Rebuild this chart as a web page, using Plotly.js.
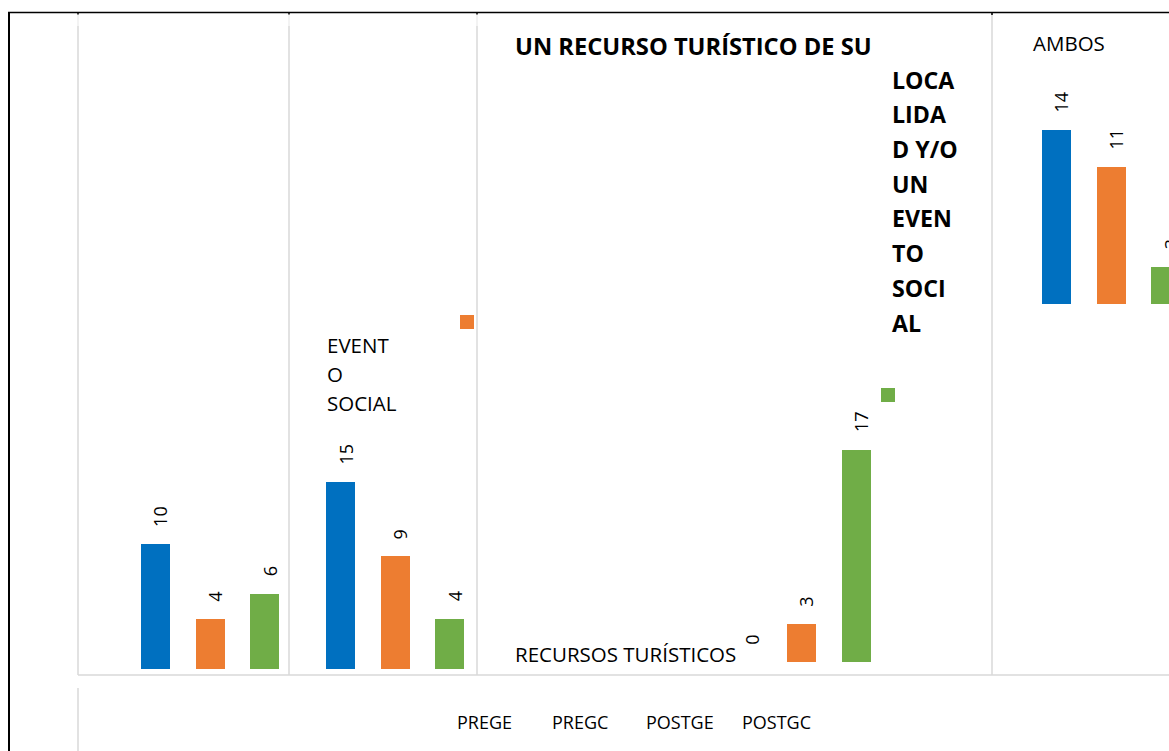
<!DOCTYPE html>
<html>
<head>
<meta charset="utf-8">
<script src="https://cdn.plot.ly/plotly-3.0.1.min.js"></script>
<style>html,body{margin:0;padding:0;background:#fff;}#chart{width:1169px;height:751px;}</style>
</head>
<body>
<div id="chart"></div>
<script>
// ---- data ----
const categories = ['', 'EVENTO SOCIAL', 'RECURSOS TURÍSTICOS', 'AMBOS'];
const blueValues = [10, 15, 0, 14];
const orangeValues = [4, 9, 3, 11];
const greenValues = [6, 4, 17, 3];
const legendLabels = ['PREGE', 'PREGC', 'POSTGE', 'POSTGC'];
const titleFirstLine = 'UN RECURSO TURÍSTICO DE SU';
const titleWrapped = ['LOCA', 'LIDA', 'D Y/O', 'UN', 'EVEN', 'TO', 'SOCI', 'AL'];
const eventoWrapped = ['EVENT', 'O', 'SOCIAL'];

// ---- layout geometry (pixels) ----
const W = 1169, H = 751;
const colors = ['#0070C0', '#ED7D31', '#70AD47'];
const FONT = 'Open Sans, sans-serif';
const px = x => x / W;
const py = y => 1 - y / H;
const panelEdges = [[78, 289], [289, 477], [477, 992], [992, 1169]];
const firstBarCenter = [155.5, 340.5, 747, 1056.5];
const barStep = 54.5, barWidthPx = 29;
const baselines = [668.7, 668.7, 661.7, 304.3];
const yAxisOfPanel = ['y', 'y', 'y2', 'y3'];
const pxPerUnit = 12.48;

const traces = [];
const annotations = [];
const layout = {
  width: W, height: H,
  margin: {l: 0, r: 0, t: 0, b: 0, pad: 0},
  paper_bgcolor: '#ffffff', plot_bgcolor: 'rgba(0,0,0,0)',
  showlegend: false,
  font: {family: FONT, color: '#000'},
  bargap: 0
};

function hiddenAxis(extra) {
  return Object.assign({visible: false, showgrid: false, zeroline: false,
    showticklabels: false, fixedrange: true}, extra);
}

// y axes
[['yaxis', 0], ['yaxis2', 2], ['yaxis3', 3]].forEach(([name, p]) => {
  const b = baselines[p];
  layout[name] = hiddenAxis({domain: [0, 1], range: [(b - H) / pxPerUnit, b / pxPerUnit],
    anchor: 'x'});
});

categories.forEach((cat, p) => {
  const xName = p === 0 ? 'x' : 'x' + (p + 1);
  const axKey = p === 0 ? 'xaxis' : 'xaxis' + (p + 1);
  const [L, R] = panelEdges[p];
  const c = firstBarCenter[p];
  layout[axKey] = hiddenAxis({domain: [px(L), px(R)],
    range: [(L - c) / barStep, (R - c) / barStep], anchor: yAxisOfPanel[p]});
  const vals = [blueValues[p], orangeValues[p], greenValues[p]];
  traces.push({
    type: 'bar', x: [0, 1, 2], y: vals, width: barWidthPx / barStep,
    marker: {color: colors, line: {width: 0}},
    xaxis: xName, yaxis: yAxisOfPanel[p], hoverinfo: 'skip', cliponaxis: true
  });
  vals.forEach((v, i) => {
    annotations.push({
      xref: xName, yref: yAxisOfPanel[p], x: i, y: v, text: String(v),
      showarrow: false, textangle: -90, xanchor: 'center', yanchor: 'bottom',
      xshift: 5, yshift: 15, font: {family: FONT, size: 18, color: '#000'}
    });
  });
});

// category / title texts
const txt = (t, x, y, size, extra) => Object.assign({
  xref: 'paper', yref: 'paper', x: px(x), y: py(y), text: t, showarrow: false,
  xanchor: 'left', yanchor: 'middle', font: {family: FONT, size: size, color: '#000'}
}, extra || {});

eventoWrapped.forEach((t, i) => annotations.push(txt(t, 325.5, 344.5 + 29 * i, 20.5)));
annotations.push(txt(categories[2], 513, 654.2, 20.5));
annotations.push(txt(categories[3], 1031, 42.5, 20.5));
annotations.push(txt('<b>' + titleFirstLine + '</b>', 512.5, 46.5, 23.7));
titleWrapped.forEach((t, i) => annotations.push(txt('<b>' + t + '</b>', 889.5, 79.5 + 34.75 * i, 23.2)));
legendLabels.forEach((t, i) => annotations.push(txt(t, 454.5 + 95 * i, 721.7, 18)));

layout.annotations = annotations;

// frame & gridlines
const line = (x0, y0, x1, y1, color, w) => ({type: 'line', xref: 'paper', yref: 'paper',
  x0: px(x0), y0: py(y0), x1: px(x1), y1: py(y1), line: {color: color, width: w}, layer: 'below'});
const grid = '#d9d9d9';
const shapes = [];
[78, 289, 477].forEach(x => {
  shapes.push(line(x, 14, x, 26, '#efefef', 1.5));
  shapes.push(line(x, 26, x, 675, grid, 1.5));
  shapes.push(line(x, 12, x, 14.5, '#000', 1.5));
});
shapes.push(line(992, 13, 992, 675, grid, 1.5));
shapes.push(line(992, 12, 992, 15, '#000', 1.5));
shapes.push(line(78, 675, 1169, 675, grid, 1.5));
shapes.push(line(78, 688, 78, 751, grid, 1.5));
shapes.push(line(8, 12.5, 1169, 12.5, '#000', 1.5));
shapes.push(line(9, 12, 9, 751, '#000', 2));
// stray legend keys
shapes.push({type: 'rect', xref: 'paper', yref: 'paper', x0: px(460), x1: px(474), y0: py(315), y1: py(329),
  fillcolor: colors[1], line: {width: 0}});
shapes.push({type: 'rect', xref: 'paper', yref: 'paper', x0: px(881), x1: px(895), y0: py(388), y1: py(402),
  fillcolor: colors[2], line: {width: 0}});
layout.shapes = shapes;

Plotly.newPlot('chart', traces, layout, {staticPlot: true, displayModeBar: false});
</script>
</body>
</html>
